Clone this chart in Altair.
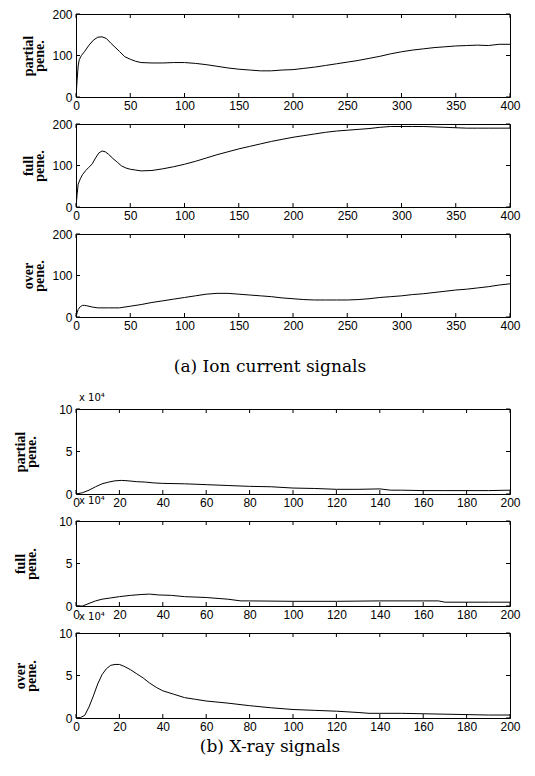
import altair as alt
import pandas as pd

# ---------------- data ----------------
ion_partial_x = [0, 1, 2, 3, 5, 8, 12, 16, 20, 24, 28, 32, 36, 40, 45, 50, 55, 60, 70, 80, 90, 100,
                 110, 120, 130, 140, 150, 160, 170, 180, 190, 200, 210, 220, 230, 240, 250, 260, 270,
                 280, 290, 300, 310, 320, 330, 340, 350, 360, 370, 380, 390, 400]
ion_partial_y = [0, 40, 75, 90, 100, 110, 125, 137, 144, 145, 141, 130, 120, 110, 97, 91, 86, 83, 82, 82, 83, 83,
                 81, 78, 74, 70, 67, 65, 63, 63, 65, 66, 69, 72, 76, 80, 84, 88, 93,
                 98, 104, 109, 113, 116, 119, 121, 123, 124, 125, 124, 127, 127]

ion_full_x = [0, 1, 2, 4, 6, 9, 12, 15, 18, 21, 24, 27, 30, 34, 38, 42, 46, 50, 55, 60, 70, 80, 90, 100,
              110, 120, 130, 140, 150, 160, 170, 180, 190, 200, 210, 220, 230, 240, 250, 260, 270, 280,
              290, 300, 310, 320, 330, 340, 350, 360, 370, 380, 390, 400]
ion_full_y = [0, 30, 55, 68, 78, 88, 96, 104, 118, 130, 135, 133, 127, 117, 108, 99, 94, 91, 89, 87, 88, 92, 97, 103,
              110, 118, 126, 133, 140, 146, 152, 158, 163, 168, 172, 176, 180, 183, 185, 187, 189, 192,
              194, 194, 194, 194, 193, 192, 191, 190, 190, 190, 190, 190]

ion_over_x = [0, 1, 2, 4, 6, 8, 10, 15, 20, 30, 40, 50, 60, 70, 80, 90, 100, 110, 120, 130, 140, 150, 160,
              170, 180, 190, 200, 210, 220, 230, 240, 250, 260, 270, 280, 290, 300, 310, 320, 330, 340,
              350, 360, 370, 380, 390, 400]
ion_over_y = [0, 10, 18, 25, 28, 28, 27, 24, 22, 22, 22, 26, 30, 35, 39, 43, 47, 51, 55, 57, 57, 55, 53,
              51, 49, 46, 44, 42, 41, 41, 41, 41, 42, 44, 47, 49, 51, 54, 56, 59, 62,
              65, 67, 70, 73, 77, 80]

xray_partial_x = [0, 3, 6, 9, 12, 15, 18, 21, 24, 28, 32, 36, 40, 50, 60, 70, 80, 90, 100, 110, 120,
                  130, 140, 145, 150, 160, 170, 180, 190, 200]
xray_partial_y = [0, 0.15, 0.45, 0.85, 1.2, 1.4, 1.55, 1.6, 1.55, 1.45, 1.4, 1.3, 1.25, 1.2, 1.1, 1.0, 0.9,
                  0.85, 0.7, 0.65, 0.55, 0.55, 0.6, 0.45, 0.45, 0.4, 0.4, 0.4, 0.4, 0.45]

xray_full_x = [0, 3, 6, 9, 12, 16, 20, 25, 30, 34, 38, 44, 50, 60, 70, 76, 80, 100, 120, 140, 160, 167,
               170, 180, 190, 200]
xray_full_y = [0, 0.0, 0.3, 0.6, 0.8, 0.95, 1.1, 1.25, 1.35, 1.4, 1.3, 1.25, 1.1, 1.0, 0.8, 0.6, 0.6,
               0.55, 0.55, 0.6, 0.6, 0.6, 0.45, 0.45, 0.45, 0.45]

xray_over_x = [0, 2, 4, 6, 8, 10, 12, 14, 16, 18, 20, 22, 25, 28, 31, 34, 37, 40, 45, 50, 55, 60, 70,
               80, 90, 100, 110, 120, 130, 135, 140, 150, 160, 170, 180, 190, 200]
xray_over_y = [0, 0.05, 0.3, 1.3, 2.6, 4.0, 5.1, 5.8, 6.2, 6.3, 6.3, 6.1, 5.7, 5.2, 4.7, 4.1, 3.6, 3.2,
               2.8, 2.4, 2.2, 2.0, 1.75, 1.45, 1.2, 1.0, 0.9, 0.8, 0.65, 0.55, 0.55, 0.55, 0.5, 0.45,
               0.4, 0.35, 0.35]

ion_xticks = [0, 50, 100, 150, 200, 250, 300, 350, 400]
ion_yticks = [0, 100, 200]
xray_xticks = [0, 20, 40, 60, 80, 100, 120, 140, 160, 180, 200]
xray_yticks = [0, 5, 10]

labels_partial = ["partial", "pene."]
labels_full = ["full", "pene."]
labels_over = ["over", "pene."]
xray_exponent = "x 10⁴"
caption_a = "(a) Ion current signals"
caption_b = "(b) X-ray signals"

W = 434
H_ION = 83
H_XRAY = 85
TICK = 4
SANS = "Liberation Sans"
SERIF_T = "Liberation Serif"


def panel(xs, ys, xdom, ydom, xticks, yticks, ytitle, title_pad, H, top_label=None, top_offset=0):
    df = pd.DataFrame({"x": xs, "y": ys})
    xsc = alt.Scale(domain=xdom, nice=False, zero=False)
    ysc = alt.Scale(domain=ydom, nice=False)
    xaxis = alt.Axis(values=xticks, ticks=False, domain=False, grid=False, labelPadding=3,
                     labelFlush=False, labelOverlap=False, title=None)
    yaxis = alt.Axis(values=yticks, ticks=False, domain=False, grid=False, labelPadding=4,
                     labelFlush=False, labelOverlap=False, title=ytitle, titleFont=SERIF_T,
                     titleFontWeight="bold", titleFontSize=14, titleLineHeight=11,
                     titlePadding=title_pad)
    line = alt.Chart(df).mark_line(color="black", strokeWidth=1, clip=True).encode(
        x=alt.X("x:Q", scale=xsc, axis=xaxis),
        y=alt.Y("y:Q", scale=ysc, axis=yaxis),
    )
    xt = pd.DataFrame({"x": xticks})
    yt = pd.DataFrame({"y": yticks})
    bx = alt.X("x:Q", scale=xsc, axis=xaxis)
    by = alt.Y("y:Q", scale=ysc, axis=yaxis)
    rule = dict(color="black", strokeWidth=1)
    bottom = alt.Chart(xt).mark_rule(**rule).encode(x=bx, y=alt.value(H), y2=alt.value(H - TICK))
    top = alt.Chart(xt).mark_rule(**rule).encode(x=bx, y=alt.value(0), y2=alt.value(TICK))
    left = alt.Chart(yt).mark_rule(**rule).encode(y=by, x=alt.value(0), x2=alt.value(TICK))
    right = alt.Chart(yt).mark_rule(**rule).encode(y=by, x=alt.value(W - TICK), x2=alt.value(W))
    ch = alt.layer(line, bottom, top, left, right).properties(width=W, height=H)
    if top_label is not None:
        ch = ch.properties(title=alt.TitleParams(
            top_label, anchor="start", frame="group", fontSize=10, fontWeight="normal",
            font="DejaVu Sans", color="black", offset=top_offset, dx=3))
    return ch


def caption(text, h, cy):
    return alt.Chart(pd.DataFrame({"t": [text]})).mark_text(
        font="DejaVu Serif", fontSize=17, color="black", align="center", baseline="middle"
    ).encode(text="t:N", x=alt.value(194), y=alt.value(cy)).properties(
        width=W, height=h, view=alt.ViewBackground(strokeOpacity=0))


p1 = panel(ion_partial_x, ion_partial_y, [0, 400], [0, 200], ion_xticks, ion_yticks, labels_partial, 5, H_ION)
p2 = panel(ion_full_x, ion_full_y, [0, 400], [0, 200], ion_xticks, ion_yticks, labels_full, 5, H_ION)
p3 = panel(ion_over_x, ion_over_y, [0, 400], [0, 200], ion_xticks, ion_yticks, labels_over, 5, H_ION)
p4 = panel(xray_partial_x, xray_partial_y, [0, 200], [0, 10], xray_xticks, xray_yticks, labels_partial, 20,
           H_XRAY, xray_exponent, 0)
p5 = panel(xray_full_x, xray_full_y, [0, 200], [0, 10], xray_xticks, xray_yticks, labels_full, 20,
           H_XRAY, xray_exponent, 9)
p6 = panel(xray_over_x, xray_over_y, [0, 200], [0, 10], xray_xticks, xray_yticks, labels_over, 20,
           H_XRAY, xray_exponent, 5)
ca = caption(caption_a, 38, 23)
cb = caption(caption_b, 12, 2)

chart = alt.vconcat(p1, p2, p3, ca, p4, p5, p6, cb, spacing=27, bounds="flush").properties(
    padding={"left": 5, "top": -1, "right": 5, "bottom": 5}
).configure_view(stroke="black", strokeWidth=1).configure_axis(
    labelFont=SANS, labelFontSize=12, labelColor="black", titleColor="black"
)

chart.save("out.html", embed_options={"renderer": "svg", "actions": False})
